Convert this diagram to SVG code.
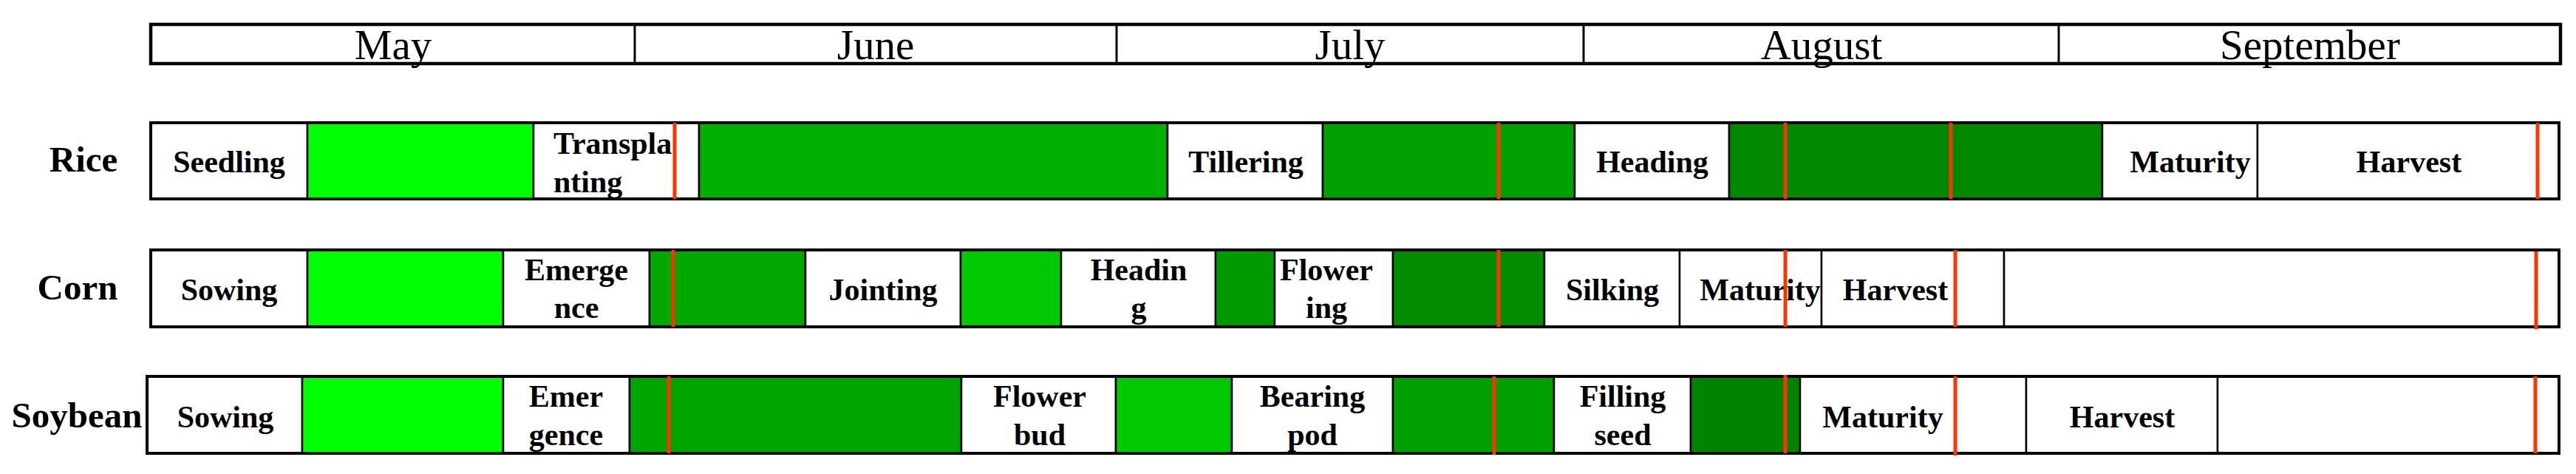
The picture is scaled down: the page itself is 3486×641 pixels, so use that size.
<svg xmlns="http://www.w3.org/2000/svg" width="3486" height="641" viewBox="0 0 3486 641">
<style>
.hdr{fill:#fff;stroke:#000;stroke-width:4.5}
.dv{stroke:#000;stroke-width:3}
.seg{stroke:#000;stroke-width:2.5}
.out{fill:none;stroke:#000;stroke-width:4}
.w{fill:#fff}
.red{stroke:#FF3300;stroke-width:5}
.month{font-family:"Liberation Serif","Times New Roman",serif;font-size:57px;text-anchor:middle;fill:#000}
.crop{font-family:"Liberation Serif","Times New Roman",serif;font-weight:bold;font-size:49px;text-anchor:middle;fill:#000}
.st{font-family:"Liberation Serif","Times New Roman",serif;font-weight:bold;font-size:42px;text-anchor:middle;fill:#000}
.st.l{text-anchor:start}
</style>
<rect width="3486" height="641" fill="#fff"/>
<g id="months">
<rect class="hdr" x="204" y="33" width="3261" height="53"/>
<line class="dv" x1="859" y1="33" x2="859" y2="86"/>
<line class="dv" x1="1511" y1="33" x2="1511" y2="86"/>
<line class="dv" x1="2143" y1="33" x2="2143" y2="86"/>
<line class="dv" x1="2786" y1="33" x2="2786" y2="86"/>
<text class="month" x="532" y="80">May</text>
<text class="month" x="1185" y="80">June</text>
<text class="month" x="1827" y="80">July</text>
<text class="month" x="2465" y="80">August</text>
<text class="month" x="3126" y="80">September</text>
</g>
<g id="rice">
<text class="crop" x="113" y="232">Rice</text>
<rect class="seg w" x="204" y="166" width="212" height="103"/>
<rect class="seg" fill="#00FF00" x="416" y="166" width="306" height="103"/>
<rect class="seg w" x="722" y="166" width="224" height="103"/>
<rect class="seg" fill="#00B000" x="946" y="166" width="634" height="103"/>
<rect class="seg w" x="1580" y="166" width="210" height="103"/>
<rect class="seg" fill="#00A000" x="1790" y="166" width="341" height="103"/>
<rect class="seg w" x="2131" y="166" width="209" height="103"/>
<rect class="seg" fill="#008800" x="2340" y="166" width="505" height="103"/>
<rect class="seg w" x="2845" y="166" width="210" height="103"/>
<rect class="seg w" x="3055" y="166" width="408" height="103"/>
<rect class="out" x="204" y="166" width="3259" height="103"/>
<text class="st" x="310" y="233">Seedling</text>
<text class="st l" x="749" y="208">Transpla</text>
<text class="st l" x="749" y="260">nting</text>
<text class="st" x="1686" y="233">Tillering</text>
<text class="st" x="2236" y="233">Heading</text>
<text class="st" x="2964" y="233">Maturity</text>
<text class="st" x="3260" y="233">Harvest</text>
<line class="red" x1="913" y1="166" x2="913" y2="269"/>
<line class="red" x1="2028" y1="166" x2="2028" y2="269"/>
<line class="red" x1="2416" y1="166" x2="2416" y2="269"/>
<line class="red" x1="2640" y1="166" x2="2640" y2="269"/>
<line class="red" x1="3434" y1="166" x2="3434" y2="269"/>
</g>
<g id="corn">
<text class="crop" x="105" y="405">Corn</text>
<rect class="seg w" x="204" y="338" width="212" height="104"/>
<rect class="seg" fill="#00FF00" x="416" y="338" width="265" height="104"/>
<rect class="seg w" x="681" y="338" width="198" height="104"/>
<rect class="seg" fill="#00A800" x="879" y="338" width="211" height="104"/>
<rect class="seg w" x="1090" y="338" width="210" height="104"/>
<rect class="seg" fill="#00C800" x="1300" y="338" width="136" height="104"/>
<rect class="seg w" x="1436" y="338" width="209" height="104"/>
<rect class="seg" fill="#009A00" x="1645" y="338" width="80" height="104"/>
<rect class="seg w" x="1725" y="338" width="160" height="104"/>
<rect class="seg" fill="#008C00" x="1885" y="338" width="205" height="104"/>
<rect class="seg w" x="2090" y="338" width="183" height="104"/>
<rect class="seg w" x="2273" y="338" width="192" height="104"/>
<rect class="seg w" x="2465" y="338" width="247" height="104"/>
<rect class="seg w" x="2712" y="338" width="751" height="104"/>
<rect class="out" x="204" y="338" width="3259" height="104"/>
<text class="st" x="310" y="406">Sowing</text>
<text class="st" x="780" y="379">Emerge</text>
<text class="st" x="780" y="430">nce</text>
<text class="st" x="1195" y="406">Jointing</text>
<text class="st" x="1541" y="379">Headin</text>
<text class="st" x="1541" y="430">g</text>
<text class="st" x="1795" y="379">Flower</text>
<text class="st" x="1795" y="430">ing</text>
<text class="st" x="2182" y="406">Silking</text>
<text class="st" x="2382" y="406">Maturity</text>
<text class="st" x="2565" y="406">Harvest</text>
<line class="red" x1="911" y1="338" x2="911" y2="442"/>
<line class="red" x1="2028" y1="338" x2="2028" y2="442"/>
<line class="red" x1="2416" y1="338" x2="2416" y2="442"/>
<line class="red" x1="2646" y1="338" x2="2646" y2="442"/>
<line class="red" x1="3432" y1="340" x2="3432" y2="445"/>
</g>
<g id="soybean">
<text class="crop" x="104" y="578">Soybean</text>
<rect class="seg w" x="199" y="509" width="210" height="104"/>
<rect class="seg" fill="#00FF00" x="409" y="509" width="272" height="104"/>
<rect class="seg w" x="681" y="509" width="171" height="104"/>
<rect class="seg" fill="#00A400" x="852" y="509" width="449" height="104"/>
<rect class="seg w" x="1301" y="509" width="209" height="104"/>
<rect class="seg" fill="#00C800" x="1510" y="509" width="157" height="104"/>
<rect class="seg w" x="1667" y="509" width="218" height="104"/>
<rect class="seg" fill="#00A000" x="1885" y="509" width="218" height="104"/>
<rect class="seg w" x="2103" y="509" width="185" height="104"/>
<rect class="seg" fill="#008400" x="2288" y="509" width="148" height="104"/>
<rect class="seg w" x="2436" y="509" width="306" height="104"/>
<rect class="seg w" x="2742" y="509" width="259" height="104"/>
<rect class="seg w" x="3001" y="509" width="462" height="104"/>
<rect class="out" x="199" y="509" width="3264" height="104"/>
<text class="st" x="305" y="578">Sowing</text>
<text class="st" x="766" y="550">Emer</text>
<text class="st" x="766" y="602">gence</text>
<text class="st" x="1407" y="550">Flower</text>
<text class="st" x="1407" y="602">bud</text>
<text class="st" x="1776" y="550">Bearing</text>
<text class="st" x="1776" y="602">pod</text>
<text class="st" x="2196" y="550">Filling</text>
<text class="st" x="2196" y="602">seed</text>
<text class="st" x="2548" y="578">Maturity</text>
<text class="st" x="2872" y="578">Harvest</text>
<line class="red" x1="905" y1="509" x2="905" y2="613"/>
<line class="red" x1="2022" y1="509" x2="2022" y2="615"/>
<line class="red" x1="2416" y1="507" x2="2416" y2="613"/>
<line class="red" x1="2646" y1="509" x2="2646" y2="616"/>
<line class="red" x1="3431" y1="509" x2="3431" y2="613"/>
</g>
</svg>
